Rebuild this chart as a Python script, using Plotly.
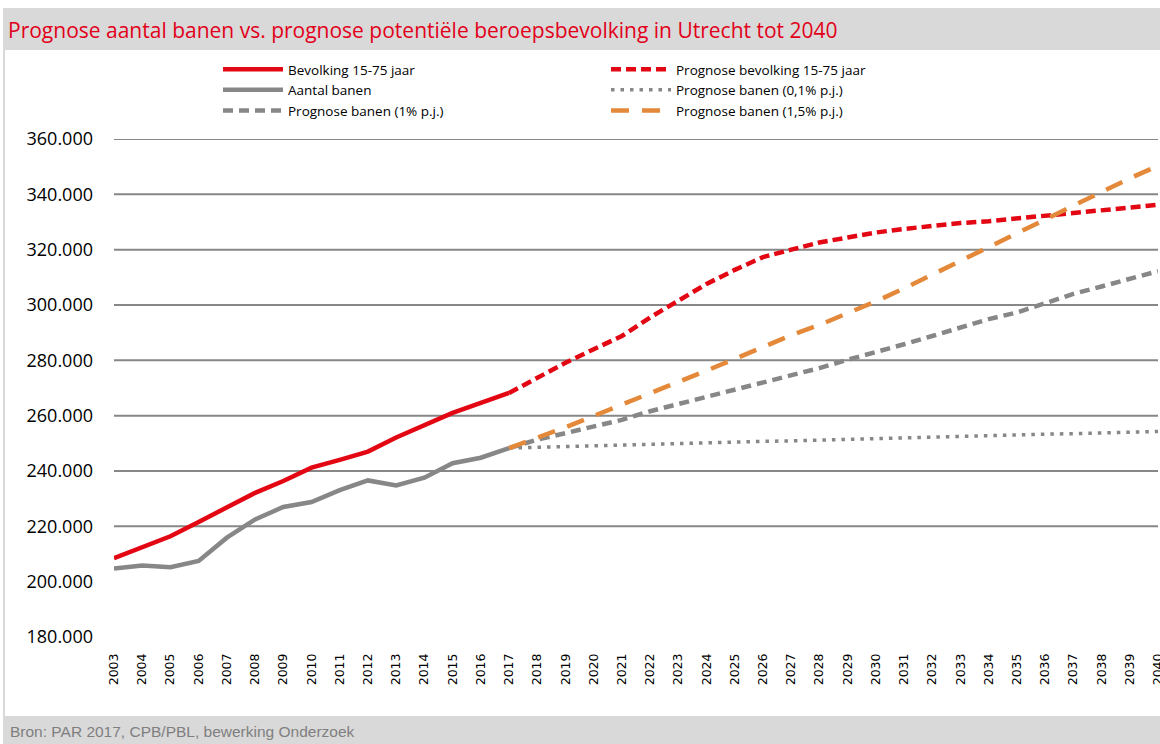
import plotly.graph_objects as go

years = [str(y) for y in range(2003, 2041)]

# Realised (2003-2017)
bevolking = [208500, 212400, 216400, 221600, 227000, 232100, 236400, 241200,
             244000, 247000, 252100, 256700, 261000, 264600, 268200]
aantal_banen = [204800, 205800, 205200, 207500, 215900, 222500, 227000, 228800,
                233100, 236600, 234800, 237600, 242800, 244800, 248300]

# Forecasts (2017-2040)
prognose_bevolking = [268200, 273700, 279100, 284000, 288800, 295500, 301600, 307600,
                      312700, 317300, 320000, 322600, 324400, 326200, 327500, 328700,
                      329600, 330300, 331300, 332400, 333500, 334300, 335300, 336200]
prognose_banen_01 = [248300, 248600, 248900, 249100, 249400, 249700, 249900, 250200,
                     250400, 250700, 250900, 251200, 251400, 251700, 252000, 252200,
                     252500, 252700, 253000, 253300, 253500, 253800, 254100, 254300]
prognose_banen_1 = [248300, 251300, 253700, 256100, 258500, 261600, 264200, 266800,
                    269500, 271900, 274500, 277200, 280200, 282900, 285800, 288800,
                    291900, 294900, 297300, 300600, 304000, 306700, 309500, 312200]
prognose_banen_15 = [248300, 252000, 255800, 259900, 263900, 268000, 272000, 276300,
                     280500, 284900, 289100, 292800, 296900, 301300, 306000, 310900,
                     315800, 320700, 325700, 330900, 335900, 340900, 345800, 350300]

hist_years = years[:15]
fc_years = years[14:]

grid_values = [220000, 240000, 260000, 280000, 300000, 320000, 340000, 360000]
y_ticks = [180000, 200000, 220000, 240000, 260000, 280000, 300000, 320000, 340000, 360000]

RED = "#e30613"
GRAY = "#878787"
ORANGE = "#e4893a"

W, H = 1160, 744
ML, MR, MT, MB = 114, 2, 139, 107
PW = W - ML - MR
PH = H - MT - MB


def px_x(px):
    return (px - ML) / PW


def px_y(py):
    return (H - MB - py) / PH


fig = go.Figure()

fig.add_trace(go.Scatter(x=hist_years, y=bevolking, mode="lines", name="Bevolking 15-75 jaar",
                         line=dict(color=RED, width=4.5), legend="legend"))
fig.add_trace(go.Scatter(x=fc_years, y=prognose_bevolking, mode="lines",
                         name="Prognose bevolking 15-75 jaar",
                         line=dict(color=RED, width=4.5, dash="10px,5px"), legend="legend2"))
fig.add_trace(go.Scatter(x=hist_years, y=aantal_banen, mode="lines", name="Aantal banen",
                         line=dict(color=GRAY, width=4.5), legend="legend"))
fig.add_trace(go.Scatter(x=fc_years, y=prognose_banen_01, mode="lines",
                         name="Prognose banen (0,1% p.j.)",
                         line=dict(color=GRAY, width=3.5, dash="3.5px,6px"), legend="legend2"))
fig.add_trace(go.Scatter(x=fc_years, y=prognose_banen_1, mode="lines",
                         name="Prognose banen (1% p.j.)",
                         line=dict(color=GRAY, width=4.5, dash="10px,6px"), legend="legend"))
fig.add_trace(go.Scatter(x=fc_years, y=prognose_banen_15, mode="lines",
                         name="Prognose banen (1,5% p.j.)",
                         line=dict(color=ORANGE, width=4.5, dash="18px,13px"), legend="legend2"))

shapes = []
# title bar
shapes.append(dict(type="rect", xref="paper", yref="paper", x0=px_x(3), x1=px_x(1160),
                   y0=px_y(50), y1=px_y(8), fillcolor="#d9d9d9", line=dict(width=0), layer="below"))
# source bar
shapes.append(dict(type="rect", xref="paper", yref="paper", x0=px_x(3), x1=px_x(1160),
                   y0=px_y(744), y1=px_y(716), fillcolor="#d9d9d9", line=dict(width=0), layer="below"))
# left frame line
shapes.append(dict(type="line", xref="paper", yref="paper", x0=px_x(4), x1=px_x(4),
                   y0=px_y(716), y1=px_y(50), line=dict(color="#d9d9d9", width=2), layer="below"))
# gridlines
for gv in grid_values:
    shapes.append(dict(type="line", xref="paper", yref="y", x0=0, x1=1, y0=gv, y1=gv,
                       line=dict(color="#878787", width=2), layer="below"))

legend_common = dict(
    orientation="v", xref="container", yref="container", xanchor="left", yanchor="top",
    font=dict(family="Open Sans", size=13.5, color="#000000"), bgcolor="rgba(0,0,0,0)",
    itemwidth=60, tracegroupgap=0, traceorder="normal",
)

fig.update_layout(
    width=W, height=H,
    margin=dict(l=ML, r=MR, t=MT, b=MB, pad=0, autoexpand=False),
    paper_bgcolor="white", plot_bgcolor="white",
    separators=",.",
    showlegend=True,
    title=dict(text="Prognose aantal banen vs. prognose potentiële beroepsbevolking in Utrecht tot 2040",
               xref="container", yref="container", x=0, y=1 - 31 / H,
               xanchor="left", yanchor="middle", pad=dict(l=8, r=0, t=0, b=0),
               font=dict(family="Open Sans", size=21, color="#e2001a")),
    legend=dict(x=218 / W, y=1 - 54 / H, **legend_common),
    legend2=dict(x=606 / W, y=1 - 54 / H, **legend_common),
    xaxis=dict(type="category", range=[0, len(years) - 1], showgrid=False, showline=False,
               zeroline=False, ticks="", tickangle=-90, ticklabelstandoff=13,
               tickfont=dict(family="DejaVu Sans", size=12.5, color="#000000")),
    yaxis=dict(range=[180000, 360000], tickvals=y_ticks, tickformat=",d", showgrid=False,
               zeroline=False, showline=False, ticks="", ticklabelstandoff=20,
               tickfont=dict(family="Open Sans", size=18, color="#000000")),
    shapes=shapes,
    annotations=[dict(text="Bron: PAR 2017, CPB/PBL, bewerking Onderzoek", xref="paper", yref="paper",
                      x=px_x(8), y=px_y(731), xanchor="left", yanchor="middle", showarrow=False,
                      font=dict(family="Liberation Sans", size=15.5, color="#7f7f7f"))],
)

fig.write_html("out.html", config={"displayModeBar": False},
               post_script="document.body.style.margin='0';document.body.style.overflow='hidden';")
